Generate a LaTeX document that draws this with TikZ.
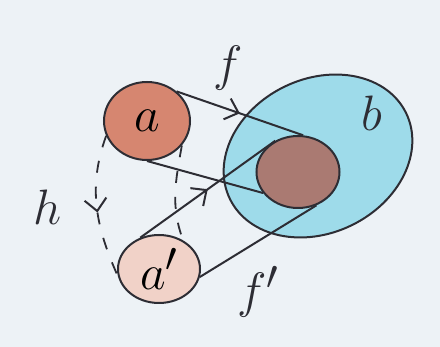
\documentclass[tikz,border=0pt]{standalone}
\usepackage{amsmath}
\usetikzlibrary{shapes,arrows.meta,positioning,calc,decorations.markings}
\definecolor{paper}{RGB}{237,242,246}
\definecolor{ink}{RGB}{45,45,52}
\definecolor{redwash}{RGB}{214,134,112}
\definecolor{pinkwash}{RGB}{241,210,200}
\definecolor{bluewash}{RGB}{158,219,234}
\definecolor{brownwash}{RGB}{170,122,114}
\tikzset{
  blob/.style={ellipse, draw=ink, line width=1pt, inner sep=0pt, font=\fontsize{28}{30}\selectfont},
  wire/.style={ink, line width=1pt},
  dashwire/.style={ink, line width=0.9pt, dash pattern=on 6pt off 7pt},
  midarrow/.style={postaction={decorate}, decoration={markings,
      mark=at position #1 with {\arrow[ink, line width=1pt]{Straight Barb[length=6pt,width=11pt]}}}},
  hand/.style={font=\fontsize{28}{30}\selectfont, text=ink}
}

\begin{document}
\begin{tikzpicture}[x=0.5pt,y=-0.5pt]
    % Paper
    \fill[paper] (0,0) rectangle (440,347);

    % Set b and the image of a
    \node[blob, fill=bluewash, minimum width=98pt, minimum height=77pt, rotate=26] (b) at (318,156) {};
    \node[blob, fill=brownwash, minimum width=41.5pt, minimum height=36pt] (fa) at (298,172) {};

    % Points a and a'
    \node[blob, fill=redwash, minimum width=43pt, minimum height=39pt] (a) at (147,121) {$a$};
    \node[blob, fill=pinkwash, minimum width=41pt, minimum height=34pt] (a2) at (159,269) {$a'$};

    % Map f
    \draw[wire, midarrow=0.5] (a.45) -- (fa.82);
    \draw[wire] (a.-90) -- (fa.211);

    % Map f'
    \draw[wire, midarrow=0.5] (a2.121) -- (fa.126);
    \draw[wire] (a2.-11) -- (fa.-61);

    % h
    \draw[dashwire, midarrow=0.5] (a.200) to[out=250,in=115] (a2.205);
    \draw[dashwire] (a.-35) to[out=-100,in=110] (a2.50);

    % Labels
    \node[hand] (lf) at (228,68) {$f$};
    \node[hand] (lb) at (372,113) {$b$};
    \node[hand] (lh) at (48,207) {$h$};
    \node[hand] (lf2) at (258,292) {$f'$};
\end{tikzpicture}
\end{document}
